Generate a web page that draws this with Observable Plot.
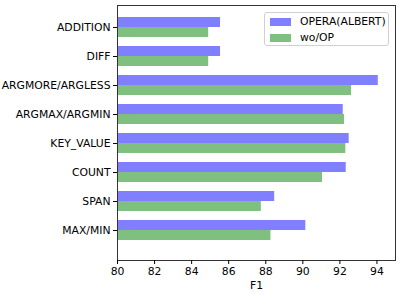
<!DOCTYPE html>
<html><head><meta charset="utf-8">
<script src="https://cdn.jsdelivr.net/npm/d3@7"></script>
<script src="https://cdn.jsdelivr.net/npm/@observablehq/plot@0.6"></script>
<style>
body{margin:0;background:white;font-family:"DejaVu Sans",sans-serif;}
#wrap{position:relative;width:401px;height:295px;}
#legend{position:absolute;left:264px;top:12px;width:125px;height:34px;border:1px solid #d0d0d0;border-radius:3px;background:rgba(255,255,255,0.85);font-size:10.8px;color:#000;box-sizing:border-box;}
.item{position:absolute;left:5px;display:flex;align-items:center;}
.sw{width:21px;height:8px;margin-right:9px;}
</style>
</head><body>
<div id="wrap"></div>
<script>
const categories = ["ADDITION","DIFF","ARGMORE/ARGLESS","ARGMAX/ARGMIN","KEY_VALUE","COUNT","SPAN","MAX/MIN"];
const series = ["OPERA(ALBERT)","wo/OP"];
const operaValues = [85.56, 85.56, 94.07, 92.18, 92.50, 92.34, 88.48, 90.16];
const woopValues  = [84.92, 84.92, 92.63, 92.25, 92.32, 91.06, 87.76, 88.28];
const xTicks = [80,82,84,86,88,90,92,94];
const xDomain = [80,95];
const colors = ["#7f7fff","#7fbf7f"];

const opera = categories.map((c,i)=>({cat:c, v:operaValues[i]}));
const woop = categories.map((c,i)=>({cat:c, v:woopValues[i]}));

const chart = Plot.plot({
  width:401, height:295,
  marginLeft:117, marginRight:6, marginTop:5, marginBottom:35,
  style:{fontFamily:"DejaVu Sans", fontSize:"10.8px", color:"black", background:"white", overflow:"visible"},
  x:{domain:xDomain},
  y:{domain:categories, range:[14,244], paddingInner:0.3, paddingOuter:0},
  marks:[
    Plot.barX(opera, {x1:xDomain[0], x2:"v", y:"cat", fill:colors[0], insetBottom:10, insetTop:0}),
    Plot.barX(woop, {x1:xDomain[0], x2:"v", y:"cat", fill:colors[1], insetTop:10, insetBottom:0}),
    Plot.frame({stroke:"#333", strokeWidth:1}),
    Plot.axisY({tickSize:4, tickPadding:3, label:null, fontSize:10.8}),
    Plot.axisX({ticks:xTicks, tickSize:4, tickPadding:3, tickFormat:d=>String(d), label:"F1", labelAnchor:"center", labelArrow:"none", labelOffset:28, fontSize:10.8})
  ]
});
const wrap = document.getElementById("wrap");
wrap.appendChild(chart);
const lg = document.createElement("div");
lg.id = "legend";
series.forEach((s,i)=>{
  const it = document.createElement("div");
  it.className = "item";
  it.style.top = (i===0 ? 2 : 18) + "px";
  const sw = document.createElement("span");
  sw.className = "sw"; sw.style.background = colors[i];
  const t = document.createElement("span");
  t.textContent = s;
  it.appendChild(sw); it.appendChild(t);
  lg.appendChild(it);
});
wrap.appendChild(lg);
</script>
</body></html>
